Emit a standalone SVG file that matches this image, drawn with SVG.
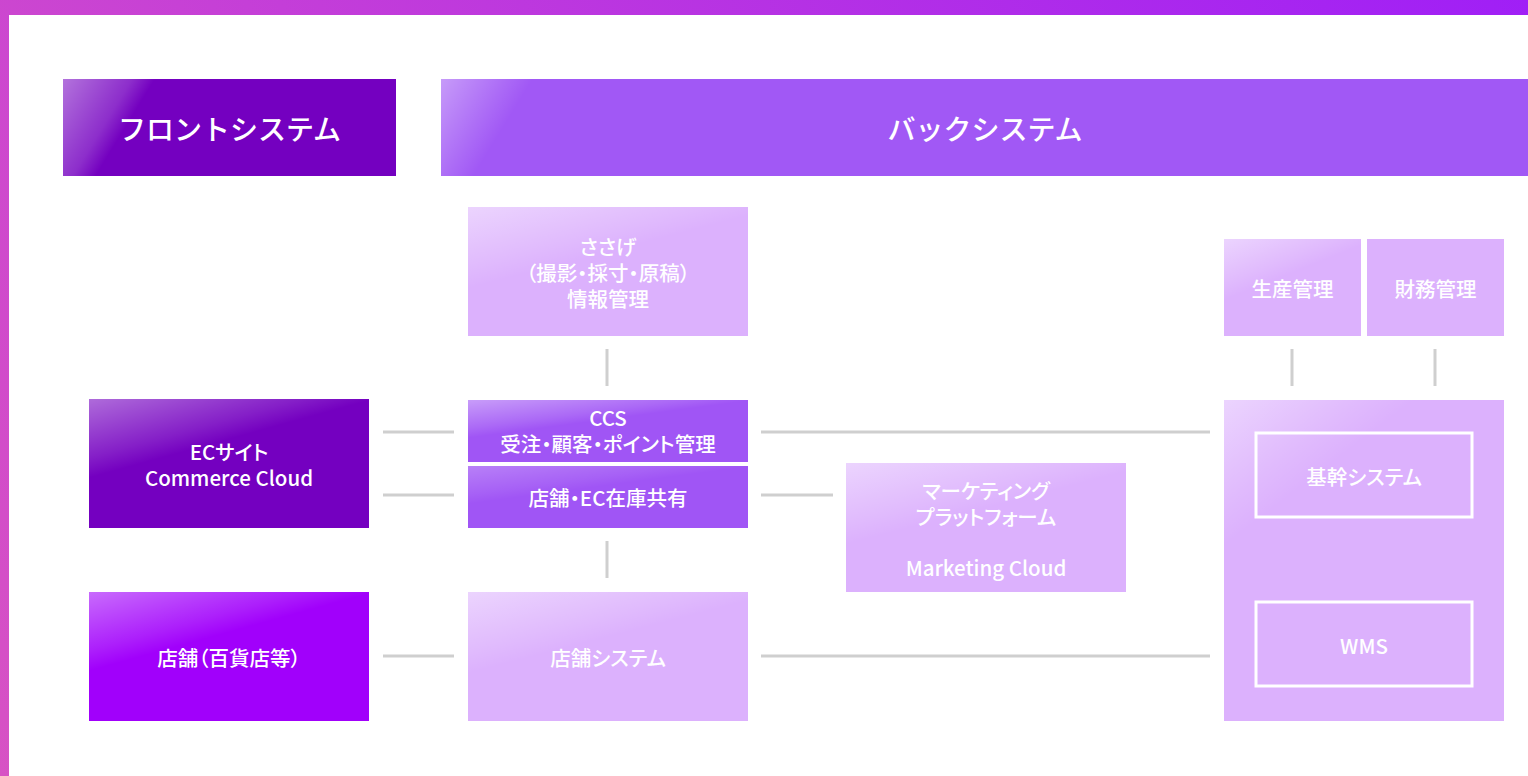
<svg xmlns="http://www.w3.org/2000/svg" width="1528" height="776" viewBox="0 0 1528 776">
<defs>
<linearGradient id="frame" x1="0" y1="776" x2="1528" y2="0" gradientUnits="userSpaceOnUse">
<stop offset="0" stop-color="#d752c4"/>
<stop offset="0.35" stop-color="#c43ed8"/>
<stop offset="1" stop-color="#a01ff6"/>
</linearGradient>
<linearGradient id="glossBox" x1="0" y1="0" x2="0.45" y2="0.75">
<stop offset="0" stop-color="#ffffff" stop-opacity="0.42"/>
<stop offset="0.45" stop-color="#ffffff" stop-opacity="0.12"/>
<stop offset="0.6" stop-color="#ffffff" stop-opacity="0"/>
</linearGradient>
<linearGradient id="glossFront" x1="63" y1="79" x2="130" y2="120" gradientUnits="userSpaceOnUse">
<stop offset="0" stop-color="#ffffff" stop-opacity="0.45"/>
<stop offset="0.75" stop-color="#ffffff" stop-opacity="0.18"/>
<stop offset="1" stop-color="#ffffff" stop-opacity="0"/>
</linearGradient>
<linearGradient id="glossBack" x1="441" y1="79" x2="508" y2="120" gradientUnits="userSpaceOnUse">
<stop offset="0" stop-color="#ffffff" stop-opacity="0.4"/>
<stop offset="0.7" stop-color="#ffffff" stop-opacity="0.12"/>
<stop offset="1" stop-color="#ffffff" stop-opacity="0"/>
</linearGradient>
<linearGradient id="glossLight" x1="0" y1="0" x2="0.45" y2="0.8">
<stop offset="0" stop-color="#ffffff" stop-opacity="0.45"/>
<stop offset="0.45" stop-color="#ffffff" stop-opacity="0.12"/>
<stop offset="0.6" stop-color="#ffffff" stop-opacity="0"/>
</linearGradient>
<linearGradient id="glossTall" x1="0" y1="0" x2="0.3" y2="0.45">
<stop offset="0" stop-color="#ffffff" stop-opacity="0.45"/>
<stop offset="0.5" stop-color="#ffffff" stop-opacity="0.12"/>
<stop offset="0.7" stop-color="#ffffff" stop-opacity="0"/>
</linearGradient>
<style>
text{font-family:"Noto Sans CJK JP","Noto Sans",sans-serif;fill:#ffffff;text-anchor:middle;dominant-baseline:central;font-size:20.5px;font-weight:500;font-feature-settings:"palt"}
.hd{font-size:28px;font-feature-settings:normal}
.dark{fill:#7400c0}
.vivid{fill:#a100fb}
.mid{fill:#a055f5}
.back{fill:#a158f5}
.light{fill:#dcb1fd}
.inner{fill:none;stroke:#ffffff;stroke-width:3}
.conn line{stroke:#cfcfcf;stroke-width:3}
</style>
</defs>
<rect x="0" y="0" width="1528" height="776" fill="url(#frame)"/>
<rect x="9" y="15" width="1519" height="761" fill="#ffffff"/>

<g id="front-header">
<rect x="63" y="79" width="333" height="97" class="dark"/>
<rect x="63" y="79" width="333" height="97" fill="url(#glossFront)"/>
<text x="229.5" y="128" class="hd">フロントシステム</text>
</g>
<g id="back-header">
<rect x="441" y="79" width="1087" height="97" class="back"/>
<rect x="441" y="79" width="1087" height="97" fill="url(#glossBack)"/>
<text x="985" y="128" class="hd">バックシステム</text>
</g>

<g class="conn" id="connectors">
<line x1="607" y1="349" x2="607" y2="386"/>
<line x1="607" y1="541" x2="607" y2="578"/>
<line x1="1292" y1="349" x2="1292" y2="386"/>
<line x1="1435" y1="349" x2="1435" y2="386"/>
<line x1="383" y1="432" x2="454" y2="432"/>
<line x1="761" y1="432" x2="1210" y2="432"/>
<line x1="383" y1="495" x2="454" y2="495"/>
<line x1="761" y1="495" x2="833" y2="495"/>
<line x1="383" y1="656" x2="454" y2="656"/>
<line x1="761" y1="656" x2="1210" y2="656"/>
</g>

<g id="sasage">
<rect x="468" y="207" width="280" height="129" class="light"/>
<rect x="468" y="207" width="280" height="129" fill="url(#glossLight)"/>
<text x="608" y="246">ささげ</text>
<text x="608" y="272">（撮影・採寸・原稿）</text>
<text x="608" y="298">情報管理</text>
</g>

<g id="ec-site">
<rect x="89" y="399" width="280" height="129" class="dark"/>
<rect x="89" y="399" width="280" height="129" fill="url(#glossBox)"/>
<text x="229" y="451">ECサイト</text>
<text x="229" y="477">Commerce Cloud</text>
</g>

<g id="ccs">
<rect x="468" y="400" width="280" height="62" class="mid"/>
<rect x="468" y="400" width="280" height="62" fill="url(#glossBox)"/>
<text x="608" y="417">CCS</text>
<text x="608" y="443">受注・顧客・ポイント管理</text>
</g>

<g id="stock-share">
<rect x="468" y="466" width="280" height="62" class="mid"/>
<rect x="468" y="466" width="280" height="62" fill="url(#glossBox)" opacity="0.6"/>
<text x="608" y="497">店舗・EC在庫共有</text>
</g>

<g id="marketing">
<rect x="846" y="463" width="280" height="129" class="light"/>
<rect x="846" y="463" width="280" height="129" fill="url(#glossLight)"/>
<text x="986" y="490">マーケティング</text>
<text x="986" y="516">プラットフォーム</text>
<text x="986" y="567">Marketing Cloud</text>
</g>

<g id="store">
<rect x="89" y="592" width="280" height="129" class="vivid"/>
<rect x="89" y="592" width="280" height="129" fill="url(#glossBox)"/>
<text x="229" y="657">店舗（百貨店等）</text>
</g>

<g id="store-system">
<rect x="468" y="592" width="280" height="129" class="light"/>
<rect x="468" y="592" width="280" height="129" fill="url(#glossLight)"/>
<text x="608" y="657">店舗システム</text>
</g>

<g id="production">
<rect x="1224" y="239" width="137" height="97" class="light"/>
<rect x="1224" y="239" width="137" height="97" fill="url(#glossLight)"/>
<text x="1292.5" y="288">生産管理</text>
</g>

<g id="finance">
<rect x="1367" y="239" width="137" height="97" class="light"/>
<text x="1435.5" y="288">財務管理</text>
</g>

<g id="core-group">
<rect x="1224" y="400" width="280" height="321" class="light"/>
<rect x="1224" y="400" width="280" height="321" fill="url(#glossTall)"/>
<g id="core-system">
<rect x="1256" y="433" width="216" height="84" class="inner"/>
<text x="1364" y="476">基幹システム</text>
</g>
<g id="wms">
<rect x="1256" y="602" width="216" height="84" class="inner"/>
<text x="1364" y="645">WMS</text>
</g>
</g>
</svg>
